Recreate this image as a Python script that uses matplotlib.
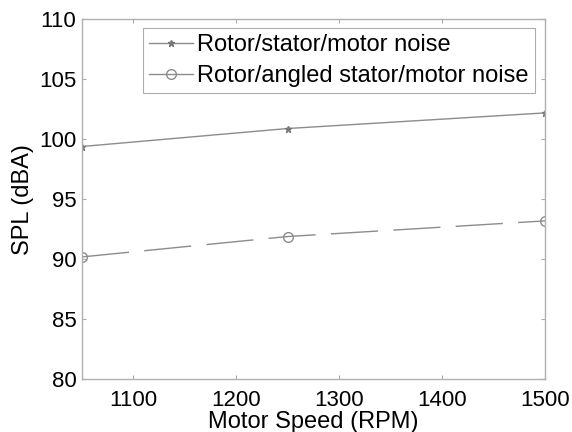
import numpy as np
import matplotlib.pyplot as plt

plt.rcParams['font.family'] = ['Liberation Sans', 'DejaVu Sans']

# data
speed = [1050, 1250, 1500]
spl_stator = [99.4, 100.9, 102.2]
spl_angled = [90.2, 91.9, 93.2]
labels = ['Rotor/stator/motor noise', 'Rotor/angled stator/motor noise']

DPI = 100
fig = plt.figure(figsize=(572/DPI, 432/DPI), dpi=DPI)
ax = fig.add_axes([0.1434, 0.122, 0.8094, 0.8333])

grey = '#8c8c8c'
ax.plot(speed, spl_stator, color=grey, lw=1.0, marker='*', ms=5,
        mec='#777777', mfc='#777777', label=labels[0])
ax.plot(speed, spl_angled, color=grey, lw=1.0, marker='o', ms=7,
        mfc='none', mec=grey, dashes=(34, 11), label=labels[1])

ax.set_xlim(1050, 1500)
ax.set_ylim(80, 110)
ax.set_xticks([1100, 1200, 1300, 1400, 1500])
ax.set_yticks(np.arange(80, 111, 5))
ax.tick_params(direction='in', length=3, width=0.8, color='#aaaaaa',
               top=True, right=True, labelsize=16)
ax.tick_params(axis='x', pad=8)
ax.tick_params(axis='y', pad=4)
for s in ax.spines.values():
    s.set_color('#b0b0b0')
    s.set_linewidth(1.0)

ax.set_xlabel('Motor Speed (RPM)', fontsize=17, labelpad=0)
ax.set_ylabel('SPL (dBA)', fontsize=17, labelpad=4)

leg = ax.legend(loc='upper right', bbox_to_anchor=(0.978, 0.976), fontsize=17,
                frameon=True, fancybox=False, handlelength=1.85,
                borderpad=0.25, labelspacing=0.4, handletextpad=0.2,
                borderaxespad=0)
leg.get_frame().set_edgecolor('#999999')
leg.get_frame().set_linewidth(0.8)
leg.legend_handles[1].set_linestyle('-')

plt.savefig('out.png', dpi=DPI)
